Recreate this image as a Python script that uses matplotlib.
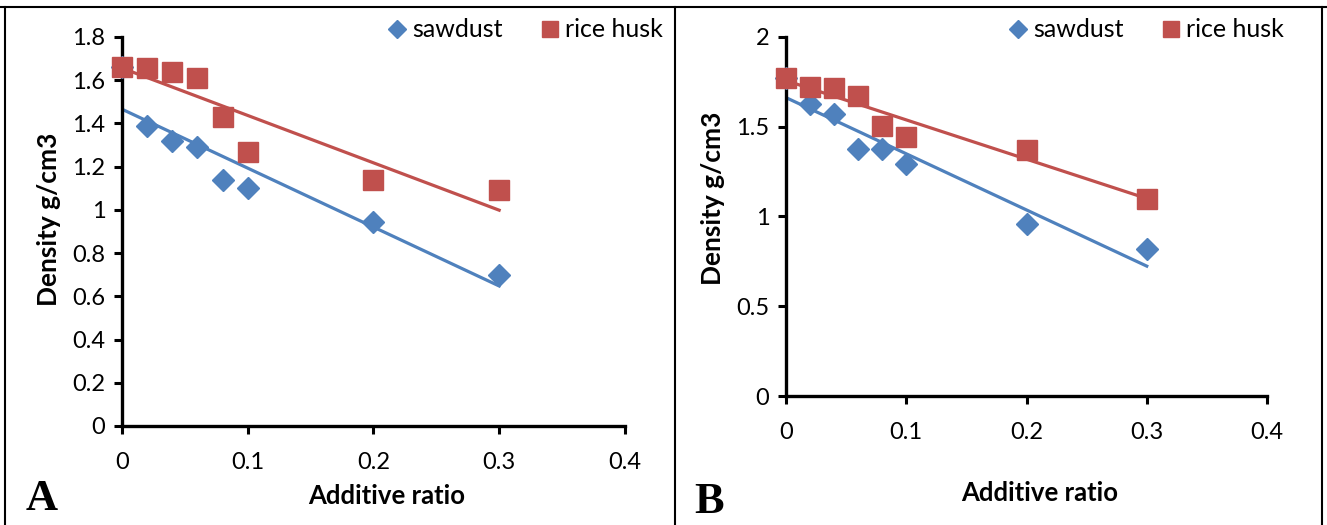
import matplotlib
matplotlib.use("Agg")
import matplotlib.pyplot as plt
import numpy as np
from matplotlib.lines import Line2D

# additive ratio (x) shared by both panels
ratio = [0, 0.02, 0.04, 0.06, 0.08, 0.1, 0.2, 0.3]

# panel A
sawdust_a = [1.66, 1.39, 1.32, 1.29, 1.14, 1.10, 0.945, 0.70]
rice_a = [1.66, 1.655, 1.64, 1.61, 1.43, 1.27, 1.14, 1.09]
yticks_a = [0, 0.2, 0.4, 0.6, 0.8, 1.0, 1.2, 1.4, 1.6, 1.8]
ylabels_a = ["0", "0.2", "0.4", "0.6", "0.8", "1", "1.2", "1.4", "1.6", "1.8"]

# panel B
sawdust_b = [1.77, 1.628, 1.572, 1.378, 1.378, 1.294, 0.956, 0.817]
rice_b = [1.772, 1.72, 1.717, 1.672, 1.506, 1.444, 1.372, 1.10]
yticks_b = [0, 0.5, 1.0, 1.5, 2.0]
ylabels_b = ["0", "0.5", "1", "1.5", "2"]

xticks = [0, 0.1, 0.2, 0.3, 0.4]
xlabels = ["0", "0.1", "0.2", "0.3", "0.4"]

BLUE = "#4F81BD"
RED = "#C0504D"
FONT = "Lato"

fig = plt.figure(figsize=(13.27, 5.25), dpi=100)


def panel(rect, saw, rice, yticks, ylabels, ymax, letter, letter_xy, leg_xy, xpad, ylab_y):
    ax = fig.add_axes(rect)
    x = np.array(ratio)
    # linear trend lines
    for y, c in ((saw, BLUE), (rice, RED)):
        k, b = np.polyfit(x, y, 1)
        ax.plot([0, 0.3], [b, k * 0.3 + b], color=c, lw=2.3, zorder=2)
    ax.plot(x, saw, "D", color=BLUE, ms=11, ls="none", zorder=3,
            label="sawdust", clip_on=False)
    ax.plot(x, rice, "s", color=RED, ms=15, ls="none", zorder=4,
            label="rice husk", clip_on=False)

    ax.set_xlim(0, 0.4)
    ax.set_ylim(0, ymax)
    ax.set_xticks(xticks)
    ax.set_xticklabels(xlabels, fontsize=17, family=FONT)
    ax.set_yticks(yticks)
    ax.set_yticklabels(ylabels, fontsize=17, family=FONT)
    for s in ("top", "right"):
        ax.spines[s].set_visible(False)
    for s in ("left", "bottom"):
        ax.spines[s].set_linewidth(2.4)
    ax.tick_params(axis="both", width=2.2, length=6, direction="out")
    ax.tick_params(axis="x", pad=13)
    ax.tick_params(axis="y", pad=6)
    ax.set_xlabel("Additive ratio", fontsize=18.5, fontweight="bold", family=FONT,
                  labelpad=xpad, x=0.527)
    ax.set_ylabel("Density g/cm3", fontsize=19, fontweight="bold", family=FONT,
                  labelpad=8, y=ylab_y)
    ax.patch.set_alpha(0)

    fig.legend(handles=ax.get_lines()[2:], loc="center left",
               bbox_to_anchor=leg_xy, ncol=2, frameon=False,
               prop={"family": FONT, "size": 18}, handlelength=0.6,
               handletextpad=0.3, columnspacing=1.6, borderaxespad=0,
               markerscale=0.8)
    fig.text(letter_xy[0], letter_xy[1], letter, fontsize=32, fontweight="bold",
             family="Liberation Serif", ha="left", va="baseline")
    return ax


panel([0.0919, 0.1886, 0.379, 0.741], sawdust_a, rice_a, yticks_a, ylabels_a,
      1.8, "A", (0.019, 0.028), (0.286, 0.943), 8, 0.53)
panel([0.5923, 0.2457, 0.3625, 0.684], sawdust_b, rice_b, yticks_b, ylabels_b,
      2.0, "B", (0.523, 0.022), (0.754, 0.943), 27, 0.55)

# outer frame lines
for xs, ys in (([0, 1], [0.987, 0.987]), ([0.0038, 0.0038], [0, 0.987]),
               ([0.5087, 0.5087], [0, 0.987]), ([0.9962, 0.9962], [0, 0.987])):
    fig.add_artist(Line2D(xs, ys, color="black", lw=1.5, transform=fig.transFigure))

fig.savefig("out.png", dpi=100)
